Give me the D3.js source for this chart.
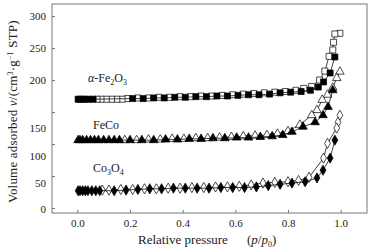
<!DOCTYPE html>
<html>
<head>
<meta charset="utf-8">
<script src="https://cdn.jsdelivr.net/npm/d3@7"></script>
<style>
  body { margin: 0; background: #fff; }
  svg text { font-family: "Liberation Serif", "DejaVu Serif", serif; fill: #222; }
</style>
</head>
<body>
<svg id="chart" width="373" height="252"></svg>
<script>
// x ticks / y ticks
var xTicks = [0.0, 0.2, 0.4, 0.6, 0.8, 1.0];
var yTicks = [0, 50, 100, 150, 200, 250, 300];

// alpha-Fe2O3 (squares)
var feOxAdsP = [0.003,0.01,0.02,0.03,0.045,0.06,0.21,0.25,0.29,0.33,0.37,0.41,0.45,0.49,0.53,0.57,0.61,0.65,0.69,0.73,0.77,0.81,0.85,0.885,0.915,0.935,0.96,0.978];
var feOxAdsV = [170,170,170,170,170,170,171,171,172,172,173,173,174,174,175,175,176,177,177,178,180,181,182,184,189,197,211,236];
var feOxDesP = [0.997,0.978,0.973,0.970,0.956,0.94,0.92,0.89,0.86,0.83,0.79,0.75,0.71,0.67,0.63,0.59,0.55,0.51,0.47,0.43,0.39,0.35,0.31,0.27,0.23,0.19,0.17,0.15,0.13,0.11,0.09,0.075];
var feOxDesV = [273,272,259,247,237,214,200,190,187,184,182,181,180,179,178,177,176,175,175,174,174,173,173,172,172,171,170,170,170,170,170,170];

// FeCo (triangles)
var feCoAdsP = [0.003,0.01,0.02,0.035,0.05,0.065,0.08,0.10,0.12,0.14,0.16,0.20,0.245,0.29,0.335,0.38,0.425,0.47,0.515,0.56,0.605,0.65,0.695,0.74,0.78,0.815,0.857,0.903,0.933,0.952,0.97];
var feCoAdsV = [106,106,106,106,106,106,106,106,106,106,106,106,106,106,107,107,108,108,109,109,110,110,111,112,114,119,127,134,145,158,184];
var feCoDesP = [0.997,0.985,0.97,0.95,0.93,0.91,0.89,0.845,0.80,0.76,0.72,0.675,0.63,0.585,0.54,0.495,0.45,0.405,0.36,0.315,0.27,0.225,0.18];
var feCoDesV = [213,203,188,177,169,153,145,130,120,116,114,113,112,111,110,109,109,108,108,107,107,106,106];

// Co3O4 (diamonds)
var coOxAdsP = [0.003,0.01,0.02,0.03,0.04,0.055,0.07,0.085,0.14,0.185,0.23,0.275,0.32,0.365,0.41,0.455,0.50,0.545,0.59,0.635,0.68,0.725,0.77,0.815,0.865,0.91,0.933,0.96,0.978];
var coOxAdsV = [27,27,27,27,27,27,27,27,27,28,29,30,30,31,31,31,31,32,32,32,33,35,37,39,41,47,59,78,106];
var coOxDesP = [0.997,0.99,0.985,0.95,0.935,0.88,0.84,0.80,0.75,0.705,0.66,0.615,0.57,0.525,0.48,0.435,0.39,0.345,0.30,0.255,0.21,0.165,0.12,0.095];
var coOxDesV = [145,134,125,101,78,48,43,41,40,39,36,34,33,33,32,32,31,31,30,30,29,29,28,28];

var svg = d3.select("#chart");
var plotL = 52, plotR = 367, plotT = 4, plotB = 213;

var x = d3.scaleLinear().domain([-0.1, 1.1]).range([plotL - 1, plotR]);
var y = d3.scaleLinear().domain([-7.8, 318.8]).range([plotB, plotT]);

function zip(ps, vs) { return ps.map(function(p, i) { return { p: p, v: vs[i] }; }); }

// frame
svg.append("rect")
  .attr("x", plotL).attr("y", plotT)
  .attr("width", plotR - plotL).attr("height", plotB - plotT)
  .attr("fill", "none").attr("stroke", "#777").attr("stroke-width", 1);

// x axis, ticks inward
var gx = svg.append("g")
  .attr("transform", "translate(0," + plotB + ")")
  .call(d3.axisBottom(x).tickValues(xTicks).tickFormat(d3.format(".1f")).tickSizeInner(-3).tickSizeOuter(0).tickPadding(6));
gx.select(".domain").remove();
gx.selectAll("line").attr("stroke", "#777");
gx.selectAll("text").style("font-size", "11px");

// y axis, ticks inward; lower labels sit a bit below their ticks as in the source
var labelShift = { 0: 1, 50: 7, 100: 12, 150: 16 };
var gy = svg.append("g")
  .attr("transform", "translate(" + plotL + ",0)")
  .call(d3.axisLeft(y).tickValues(yTicks).tickSizeInner(-3).tickSizeOuter(0).tickPadding(6));
gy.select(".domain").remove();
gy.selectAll("line").attr("stroke", "#777");
gy.selectAll("text").style("font-size", "11px")
  .attr("y", function(d) { return labelShift[d] || 0; });

var line = d3.line().x(function(d) { return x(d.p); }).y(function(d) { return y(d.v); });

var symSquare = d3.symbol().type(d3.symbolSquare).size(36);
var symTri = d3.symbol().type(d3.symbolTriangle).size(32);
var symDiamond = d3.symbol().type(d3.symbolDiamond).size(30);

function series(data, sym, filled) {
  svg.append("path").datum(data)
    .attr("d", line).attr("fill", "none")
    .attr("stroke", "#111").attr("stroke-width", 0.8);
  svg.append("g").selectAll("path").data(data).enter().append("path")
    .attr("transform", function(d) { return "translate(" + x(d.p) + "," + y(d.v) + ")"; })
    .attr("d", sym)
    .attr("fill", filled ? "#000" : "#fff")
    .attr("stroke", "#000").attr("stroke-width", 0.7);
}

series(zip(feOxDesP, feOxDesV), symSquare, false);
series(zip(feOxAdsP, feOxAdsV), symSquare, true);
series(zip(feCoDesP, feCoDesV), symTri, false);
series(zip(feCoAdsP, feCoAdsV), symTri, true);
series(zip(coOxDesP, coOxDesV), symDiamond, false);
series(zip(coOxAdsP, coOxAdsV), symDiamond, true);

// sample labels
var t1 = svg.append("text").attr("x", 88).attr("y", 82).style("font-size", "12px");
t1.append("tspan").style("font-style", "italic").text("α");
t1.append("tspan").text("-Fe");
t1.append("tspan").attr("dy", 3).style("font-size", "8px").text("2");
t1.append("tspan").attr("dy", -3).text("O");
t1.append("tspan").attr("dy", 3).style("font-size", "8px").text("3");

svg.append("text").attr("x", 93).attr("y", 129).style("font-size", "12px").text("FeCo");

var t3 = svg.append("text").attr("x", 93).attr("y", 172).style("font-size", "12px");
t3.append("tspan").text("Co");
t3.append("tspan").attr("dy", 3).style("font-size", "8px").text("3");
t3.append("tspan").attr("dy", -3).text("O");
t3.append("tspan").attr("dy", 3).style("font-size", "8px").text("4");

// x title
svg.append("text").attr("x", 138).attr("y", 244).style("font-size", "13px").text("Relative pressure");
var xt = svg.append("text").attr("x", 247).attr("y", 244).style("font-size", "13px");
xt.append("tspan").text("(");
xt.append("tspan").style("font-style", "italic").text("p");
xt.append("tspan").text("/");
xt.append("tspan").style("font-style", "italic").text("p");
xt.append("tspan").attr("dy", 3).style("font-size", "8px").text("0");
xt.append("tspan").attr("dy", -3).text(")");

// y title
var yt = svg.append("text")
  .attr("transform", "translate(17,203) rotate(-90)")
  .style("font-size", "13px").style("letter-spacing", "0.2px");
yt.append("tspan").text("Volume adsorbed  ");
yt.append("tspan").style("font-style", "italic").text("v");
yt.append("tspan").text("/(cm");
yt.append("tspan").attr("dy", -4).style("font-size", "8px").text("3");
yt.append("tspan").attr("dy", 4).text("·g");
yt.append("tspan").attr("dy", -4).style("font-size", "8px").text("−1");
yt.append("tspan").attr("dy", 4).text(" STP)");
</script>
</body>
</html>
